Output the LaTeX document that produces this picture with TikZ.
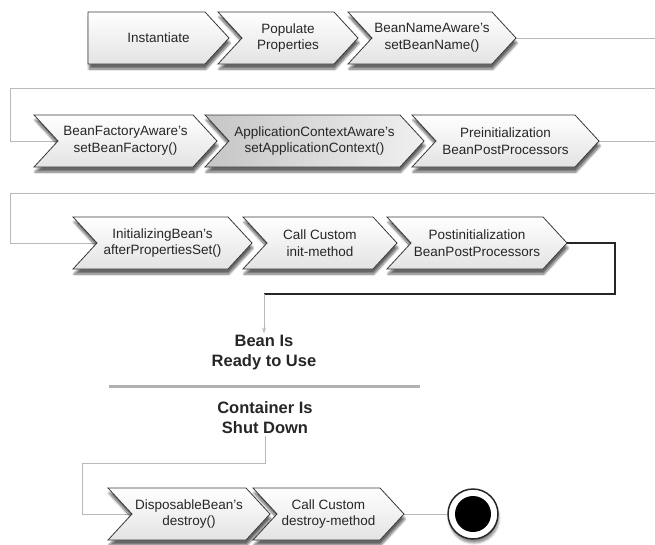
\documentclass[tikz,border=0pt]{standalone}
\usepackage{fontspec}
\setmainfont{Liberation Sans}
\usetikzlibrary{shadows.blur,arrows.meta,backgrounds}
\tikzset{
  chevbox/.style={draw=gray!45!black, line width=0.8pt, top color=white, bottom color=gray!22,
    blur shadow={shadow xshift=1pt, shadow yshift=-5pt, shadow opacity=60, shadow blur steps=8}},
  chevdark/.style={chevbox, left color=gray!45, right color=gray!12},
  chevtext/.style={font=\fontsize{13.5}{16.5}\selectfont, align=center, text=black!85, inner sep=0pt},
  conn/.style={draw=gray!55, line width=0.8pt},
  darkconn/.style={draw=black!85, line width=1.1pt},
  bigtext/.style={font=\bfseries\fontsize{16.5}{20}\selectfont, align=center, inner sep=2pt, text=black!85},
}
\newcommand\chev[7]{%
  \path[#6] (#2,#4-26) -- (#3,#4-26) -- (#3+24,#4) -- (#3,#4+26) -- (#2,#4+26) -- (#2+#5,#4) -- cycle;
  \coordinate (#1-tip) at (#3+24,#4);
  \coordinate (#1-notch) at (#2+#5,#4);
  \node[chevtext] (#1) at ({(#2+#3+24)/2},#4) {#7};}
\begin{document}
\begin{tikzpicture}[x=1pt,y=-1pt]
\useasboundingbox (0,0) rectangle (655,544);
\clip (0,0) rectangle (655,544);
% row 1
\chev{c1}{88}{205}{38}{0}{chevbox}{Instantiate}
\chev{c2}{218}{334}{38}{24}{chevbox}{Populate\\Properties}
\chev{c3}{348}{492}{38}{24}{chevbox}{BeanNameAware's\\setBeanName()}
% row 2
\chev{c4}{34}{193}{141}{24}{chevbox}{BeanFactoryAware's\\setBeanFactory()}
\chev{c5}{205}{400}{141}{24}{chevdark}{ApplicationContextAware's\\setApplicationContext()}
\chev{c6}{412}{575}{141}{24}{chevbox}{Preinitialization\\BeanPostProcessors}
% row 3
\chev{c7}{73}{228}{243}{24}{chevbox}{InitializingBean's\\afterPropertiesSet()}
\chev{c8}{243}{373}{243}{24}{chevbox}{Call Custom\\init-method}
\chev{c9}{387}{543}{243}{24}{chevbox}{Postinitialization\\BeanPostProcessors}
% texts
\node[bigtext] (ready) at (264,353) {Bean Is\\Ready to Use};
\draw[gray!60, line width=3pt] (109,386) -- (420,386);
\node[bigtext] (shut) at (265,418) {Container Is\\Shut Down};
% row 4
\chev{c10}{108}{246}{514}{24}{chevbox}{DisposableBean's\\destroy()}
\chev{c11}{253}{380}{514}{24}{chevbox}{Call Custom\\destroy-method}
\node[circle, draw=gray!30!black, line width=1.5pt, fill=white, minimum size=50pt, inner sep=0pt,
  blur shadow={shadow xshift=1pt, shadow yshift=-4pt, shadow opacity=45}] (finish) at (473,514) {};
\node[circle, fill=black, minimum size=36pt, inner sep=0pt] (finishdot) at (finish.center) {};
% connector corners
\coordinate (r1a) at (670,38);
\coordinate (r1b) at (670,88);
\coordinate (r1c) at (10,88);
\coordinate (r2a) at (670,141);
\coordinate (r2b) at (670,193);
\coordinate (r2c) at (10,193);
\coordinate (turn) at (615,294);
\coordinate (bend) at (264,294);
\coordinate (down) at (82,463);
% connectors, under the chevrons
\begin{pgfonlayer}{background}
\draw[conn] (c3-tip) -- (r1a) -- (r1b) -- (r1c) |- (c4-notch);
\draw[conn] (c6-tip) -- (r2a) -- (r2b) -- (r2c) |- (c7-notch);
\draw[conn] (shut.south) |- (down) |- (c10-notch);
\draw[conn] (c11-tip) -- (finish);
\end{pgfonlayer}
\draw[darkconn] (c9-tip) -| (turn) -- (bend);
\draw[conn, -{Stealth[length=6pt,width=4pt]}] (bend) -- (ready.north);
\end{tikzpicture}
\end{document}
